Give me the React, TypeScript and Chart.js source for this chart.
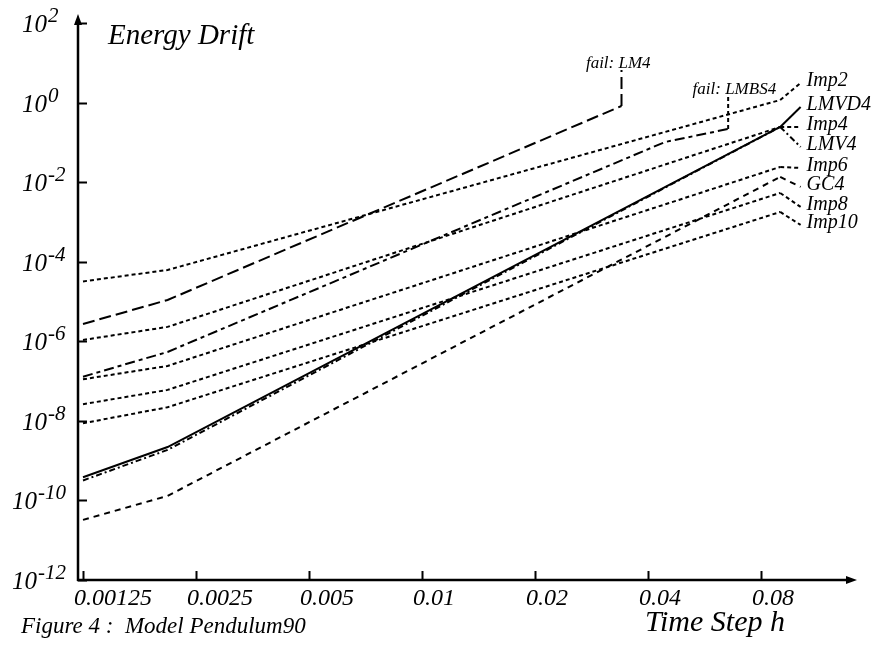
import { useEffect, useRef } from "react";
import { Chart, registerables } from "chart.js";

Chart.register(...registerables);

// ---------- data ----------
const xTickValues = [0.00125, 0.0025, 0.005, 0.01, 0.02, 0.04, 0.08];
const xTickLabels = ["0.00125", "0.0025", "0.005", "0.01", "0.02", "0.04", "0.08"];
const yTickExponents = [2, 0, -2, -4, -6, -8, -10, -12];

const stepsFull = [0.00125, 0.0021, 0.09];
const stepsLM4 = [0.00125, 0.0021, 0.034];
const stepsLMBS4 = [0.00125, 0.0021, 0.0444, 0.0654];

const imp2 = [3.2e-5, 6.2e-5, 1.16];
const imp4 = [1.08e-6, 2.3e-6, 0.244];
const imp6 = [1.11e-7, 2.4e-7, 0.0241];
const imp8 = [2.62e-8, 6.0e-8, 5.35e-3];
const imp10 = [8.7e-9, 2.2e-8, 1.78e-3];
const lm4 = [2.73e-6, 1.09e-5, 0.82];
const lmbs4 = [1.29e-7, 5.4e-7, 0.102, 0.217];
const lmvd4 = [3.83e-10, 2.2e-9, 0.244];
const lmv4 = [3.18e-10, 1.86e-9, 0.244];
const gc4 = [3.24e-11, 1.3e-10, 0.0135];

// ---------- series description (styles) ----------
type Series = {
  name: string;
  steps: number[];
  values: number[];
  dash: number[];
  label: string;
  kind: "right" | "fail";
  leaderY: number;
  leaderDash?: number[];
};

const DOT = [4, 3];
const series: Series[] = [
  { name: "Imp2", steps: stepsFull, values: imp2, dash: DOT, label: "Imp2", kind: "right", leaderY: 3.1 },
  { name: "LM4", steps: stepsLM4, values: lm4, dash: [12, 5], label: "fail: LM4", kind: "fail", leaderY: 6.6 },
  { name: "Imp4", steps: stepsFull, values: imp4, dash: DOT, label: "Imp4", kind: "right", leaderY: 0.244 },
  { name: "LMBS4", steps: stepsLMBS4, values: lmbs4, dash: [10, 4, 4, 4], label: "fail: LMBS4", kind: "fail", leaderY: 1.46, leaderDash: DOT },
  { name: "Imp6", steps: stepsFull, values: imp6, dash: DOT, label: "Imp6", kind: "right", leaderY: 0.0227 },
  { name: "Imp8", steps: stepsFull, values: imp8, dash: DOT, label: "Imp8", kind: "right", leaderY: 2.38e-3 },
  { name: "Imp10", steps: stepsFull, values: imp10, dash: DOT, label: "Imp10", kind: "right", leaderY: 8.4e-4 },
  { name: "LMVD4", steps: stepsFull, values: lmvd4, dash: [], label: "LMVD4", kind: "right", leaderY: 0.775 },
  { name: "LMV4", steps: stepsFull, values: lmv4, dash: [6, 3, 2, 3], label: "LMV4", kind: "right", leaderY: 0.0766 },
  { name: "GC4", steps: stepsFull, values: gc4, dash: [6, 5], label: "GC4", kind: "right", leaderY: 7.57e-3 },
];

const LEADER_H = 0.102;
const FONT = '"Liberation Serif", "DejaVu Serif", serif';

const annotPlugin = {
  id: "annot",
  afterDraw(chart: any) {
    const ctx: CanvasRenderingContext2D = chart.ctx;
    const xs = chart.scales.x;
    const ys = chart.scales.y;
    const ca = chart.chartArea;
    ctx.save();
    ctx.strokeStyle = "#000";
    ctx.fillStyle = "#000";
    ctx.setLineDash([]);

    // axes
    ctx.lineWidth = 2.5;
    ctx.beginPath();
    ctx.moveTo(ca.left, ca.bottom + 1);
    ctx.lineTo(ca.left, ca.top - 4);
    ctx.moveTo(ca.left - 1, ca.bottom);
    ctx.lineTo(ca.right - 6, ca.bottom);
    ctx.stroke();
    ctx.beginPath();
    ctx.moveTo(ca.left, ca.top - 9);
    ctx.lineTo(ca.left - 4, ca.top + 2);
    ctx.lineTo(ca.left + 4, ca.top + 2);
    ctx.closePath();
    ctx.fill();
    ctx.beginPath();
    ctx.moveTo(ca.right, ca.bottom);
    ctx.lineTo(ca.right - 11, ca.bottom - 4);
    ctx.lineTo(ca.right - 11, ca.bottom + 4);
    ctx.closePath();
    ctx.fill();

    // ticks
    ctx.lineWidth = 2;
    ctx.beginPath();
    xTickValues.forEach((v) => {
      const px = Math.round(xs.getPixelForValue(v)) + 0.5;
      ctx.moveTo(px, ca.bottom);
      ctx.lineTo(px, ca.bottom - 9);
    });
    yTickExponents.forEach((e) => {
      const py = Math.round(ys.getPixelForValue(Math.pow(10, e))) + 0.5;
      ctx.moveTo(ca.left, py);
      ctx.lineTo(ca.left + 9, py);
    });
    ctx.stroke();

    // x tick labels
    ctx.font = `italic 24px ${FONT}`;
    ctx.textAlign = "left";
    ctx.textBaseline = "alphabetic";
    xTickValues.forEach((v, i) => {
      const px = xs.getPixelForValue(v);
      ctx.fillText(xTickLabels[i], px - 9, ca.bottom + 25);
    });

    // y tick labels with superscript
    yTickExponents.forEach((e) => {
      const py = ys.getPixelForValue(Math.pow(10, e));
      const exp = String(e);
      const baseRight = ca.left - (Math.abs(e) >= 10 ? 41 : 31);
      ctx.font = `italic 25px ${FONT}`;
      ctx.textAlign = "right";
      ctx.fillText("10", baseRight, py + 9);
      ctx.font = `italic 21px ${FONT}`;
      ctx.textAlign = "left";
      ctx.fillText(exp, baseRight + 1, py - 1);
    });

    // leaders and series labels
    series.forEach((s) => {
      const n = s.steps.length;
      const x0 = xs.getPixelForValue(s.steps[n - 1]);
      const y0 = ys.getPixelForValue(s.values[n - 1]);
      ctx.lineWidth = 2;
      ctx.setLineDash(s.leaderDash || s.dash);
      ctx.beginPath();
      if (s.kind === "right") {
        const x1 = xs.getPixelForValue(LEADER_H);
        const y1 = ys.getPixelForValue(s.leaderY);
        ctx.moveTo(x0, y0);
        ctx.lineTo(x1, y1);
        ctx.stroke();
        ctx.setLineDash([]);
        ctx.font = `italic 20px ${FONT}`;
        ctx.textAlign = "left";
        ctx.fillText(s.label, x1 + 6, y1 + 3);
      } else {
        const y1 = ys.getPixelForValue(s.leaderY);
        ctx.moveTo(x0, y0);
        ctx.lineTo(x0, y1);
        ctx.stroke();
        ctx.setLineDash([]);
        ctx.font = `italic 17px ${FONT}`;
        ctx.textAlign = "left";
        const w = ctx.measureText("fail: ").width;
        ctx.fillText(s.label, x0 - w - 3, y1 - 2);
      }
    });

    // titles
    ctx.setLineDash([]);
    ctx.textAlign = "left";
    ctx.font = `italic 29px ${FONT}`;
    ctx.fillText("Energy Drift", 108, 44);
    ctx.font = `italic 30px ${FONT}`;
    ctx.fillText("Time Step h", 645, 631);
    ctx.font = `italic 23px ${FONT}`;
    ctx.fillText("Figure 4 :  Model Pendulum90", 21, 633);
    ctx.restore();
  },
};

export default function App() {
  const ref = useRef<HTMLCanvasElement | null>(null);
  useEffect(() => {
    const canvas = ref.current;
    if (!canvas) return;
    const xMin = 0.00125 * Math.pow(2, -5 / 113);
    const xMax = xMin * Math.pow(2, 779 / 113);
    const chart = new Chart(canvas, {
      type: "line",
      data: {
        datasets: series.map((s) => ({
          label: s.name,
          data: s.steps.map((h, i) => ({ x: h, y: s.values[i] })),
          borderColor: "#000",
          backgroundColor: "#000",
          borderWidth: 2,
          borderDash: s.dash,
          pointRadius: 0,
          tension: 0,
          fill: false,
          clip: false as any,
        })),
      },
      options: {
        responsive: false,
        animation: false,
        devicePixelRatio: 1,
        layout: { padding: { left: 78, right: 21, top: 23, bottom: 68 } },
        plugins: { legend: { display: false }, title: { display: false }, tooltip: { enabled: false } },
        scales: {
          x: { type: "logarithmic", display: false, min: xMin, max: xMax, bounds: "data" },
          y: { type: "logarithmic", display: false, min: 1e-12, max: 1e2, bounds: "data" },
        },
      },
      plugins: [annotPlugin],
    });
    return () => chart.destroy();
  }, []);
  return (
    <div style={{ position: "fixed", left: 0, top: 0, width: 878, height: 648, background: "#fff" }}>
      <canvas ref={ref} width={878} height={648} style={{ display: "block" }} />
    </div>
  );
}
